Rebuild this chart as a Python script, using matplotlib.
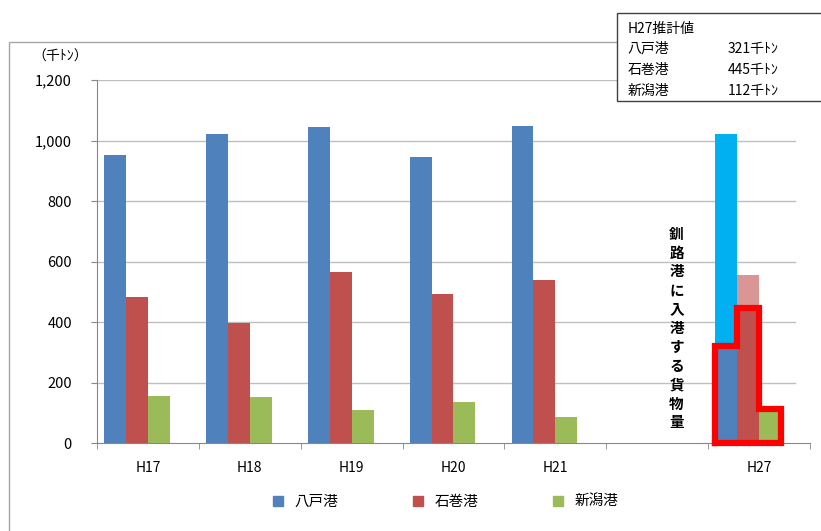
import matplotlib.pyplot as plt
from matplotlib.patches import Rectangle
from matplotlib.lines import Line2D
import numpy as np

plt.rcParams['font.family'] = ['Noto Sans CJK JP', 'DejaVu Sans']

years = ['H17', 'H18', 'H19', 'H20', 'H21', '', 'H27']
hachinohe = [952, 1021, 1044, 944, 1049, 0, 1021]
ishinomaki = [484, 398, 564, 491, 539, 0, 556]
niigata = [155, 151, 108, 134, 87, 0, 0]
# H27 kushiro share (estimates)
h27_kushiro = [321, 445, 112]
ports = ['八戸港', '石巻港', '新潟港']
note_title = 'H27推計値'
vert_label = '釧路港に入港する貨物量'

c_blue = '#4F81BD'
c_red = '#C0504D'
c_green = '#9BBB59'
c_cyan = '#00B0F0'
c_pink = '#D99694'

fig = plt.figure(figsize=(8.21, 5.31), dpi=100)
ax = fig.add_axes([0.1181, 0.1657, 0.8685, 0.6836])

x = np.arange(len(years))
w = 0.215
offs = [-1.5 * w, -0.5 * w, 0.5 * w]

# gridlines
for v in range(200, 1201, 200):
    ax.plot([-0.5, 6.35], [v, v], color='#BFBFBF', lw=1, zorder=0)

b_cols = [c_blue] * 6 + [c_cyan]
r_cols = [c_red] * 6 + [c_pink]
ax.bar(x + offs[0], hachinohe, w, color=b_cols, zorder=2)
ax.bar(x + offs[1], ishinomaki, w, color=r_cols, zorder=2)
ax.bar(x + offs[2], niigata, w, color=c_green, zorder=2)

# H27 kushiro overlay
i27 = 6
ax.bar([i27 + o for o in offs], h27_kushiro, w, color=[c_blue, c_red, c_green], zorder=3)

# red outline around overlay bars
xl = [i27 + o - w / 2 for o in offs] + [i27 + offs[2] + w / 2]
px = [xl[0], xl[0], xl[1], xl[1], xl[2], xl[2], xl[3], xl[3], xl[0]]
py = [0, h27_kushiro[0], h27_kushiro[0], h27_kushiro[1], h27_kushiro[1],
      h27_kushiro[2], h27_kushiro[2], 0, 0]
ax.plot(px, py, color='#FF0000', lw=4.5, zorder=4, solid_joinstyle='miter', clip_on=False)

ax.set_xlim(-0.5, 6.5)
ax.set_ylim(0, 1200)
ax.set_yticks(range(0, 1201, 200))
ax.set_yticklabels([f'{v:,}' for v in range(0, 1201, 200)], fontsize=10.5)
ax.set_xticks(x)
ax.set_xticklabels(years, fontsize=10)
ax.set_xticks(np.arange(-0.5, 7, 1), minor=True)
ax.tick_params(axis='x', which='major', length=0, pad=13)
ax.tick_params(axis='x', which='minor', length=4, color='#878787')
ax.tick_params(axis='y', length=4, color='#878787', pad=14)
for s in ['top', 'right']:
    ax.spines[s].set_visible(False)
for s in ['left', 'bottom']:
    ax.spines[s].set_color('#878787')

ax.text(-0.052, 1.063, '（千ﾄﾝ）', transform=ax.transAxes, ha='center', va='center', fontsize=10)

ax.text(5.19, 380, '\n'.join(vert_label), ha='center', va='center', fontsize=10.5,
        fontweight='bold', linespacing=1.22)

# chart frame
fig.patches.append(Rectangle((0.011, -0.05), 1.1, 0.97, transform=fig.transFigure,
                             fill=False, edgecolor='#A6A6A6', lw=1))

# note box
fig.patches.append(Rectangle((0.752, 0.81), 0.3, 0.166, transform=fig.transFigure,
                             facecolor='white', edgecolor='#404040', lw=1, zorder=5))
fig.text(0.764, 0.946, note_title, fontsize=10, va='center', zorder=6)
for k, (p, v) in enumerate(zip(ports, h27_kushiro)):
    yy = 0.908 - k * 0.04
    fig.text(0.764, yy, p, fontsize=10, va='center', zorder=6)
    fig.text(0.886, yy, f'{v}千ﾄﾝ', fontsize=10, va='center', zorder=6)

handles = [Line2D([], [], marker='s', ls='', color=c, markersize=7) for c in [c_blue, c_red, c_green]]
fig.legend(handles, ports, loc='center', bbox_to_anchor=(0.537, 0.055), ncol=3,
           frameon=False, fontsize=10.5, handletextpad=0.1, columnspacing=4.5)

fig.savefig('out.png', dpi=100)
